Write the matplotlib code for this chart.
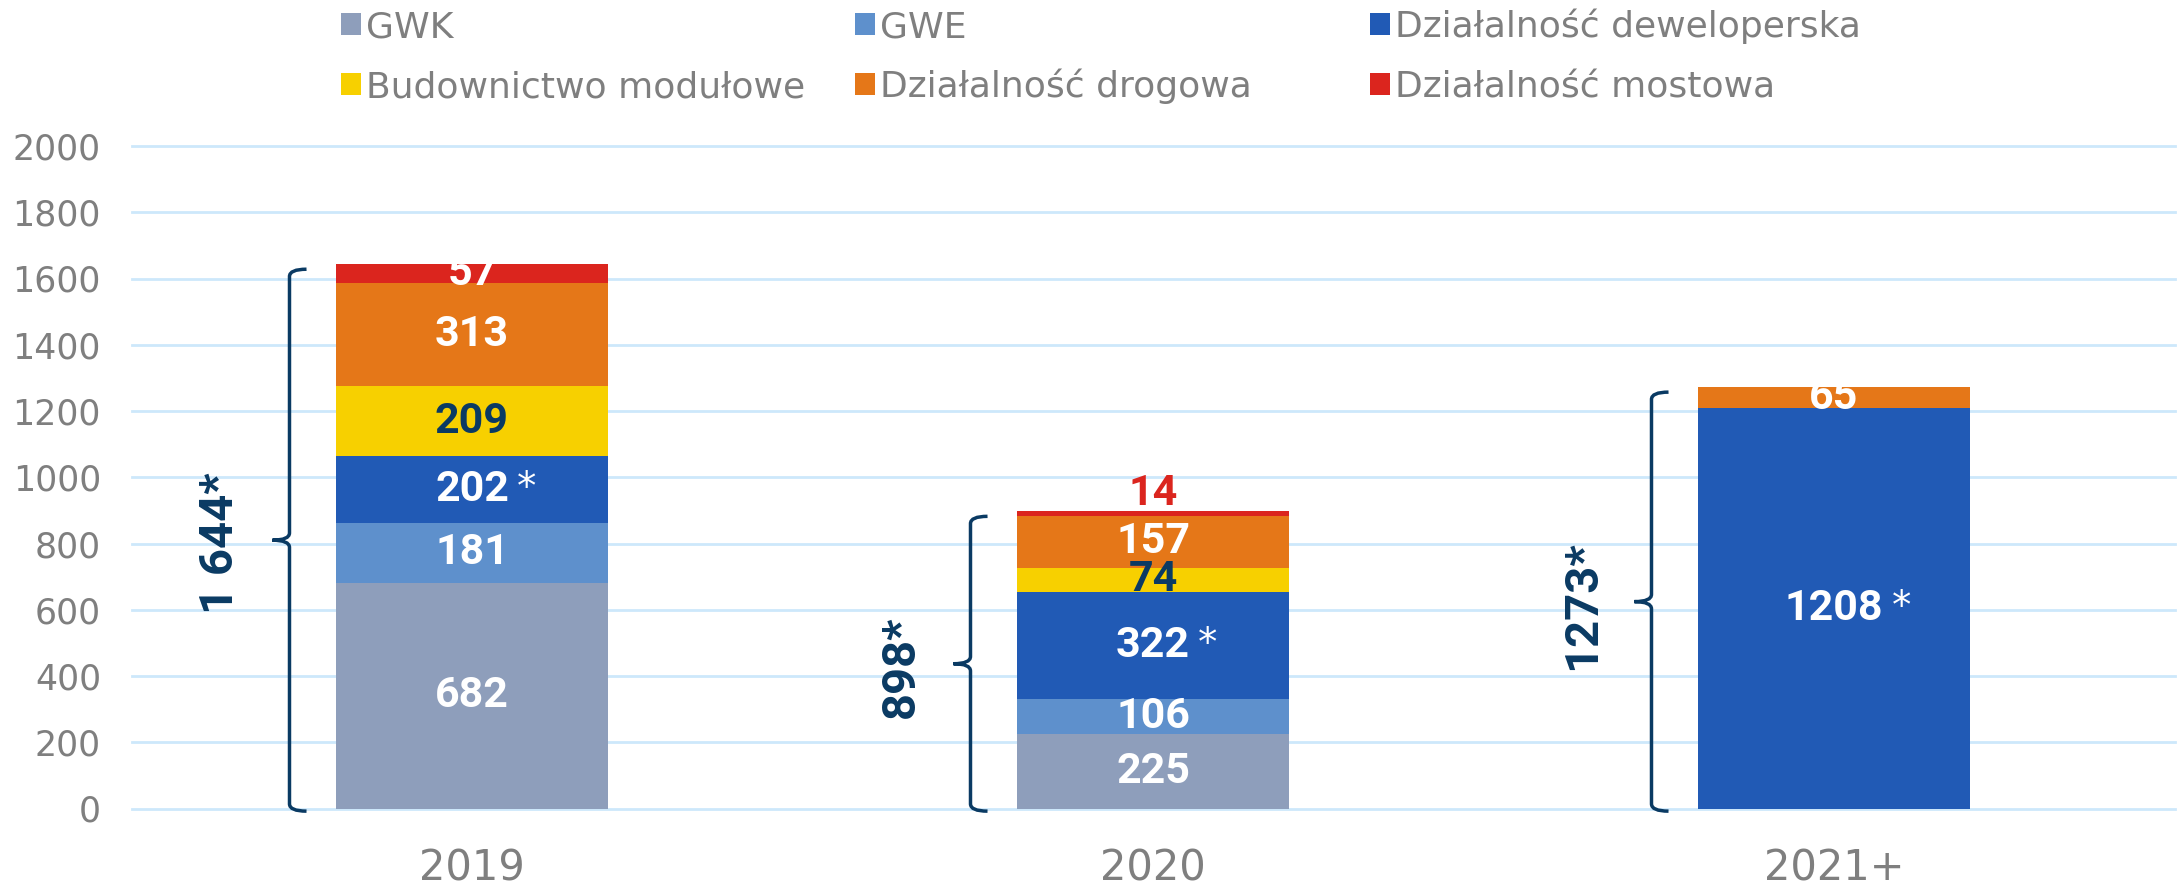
import matplotlib
matplotlib.use('Agg')
import matplotlib.pyplot as plt
from matplotlib.path import Path
from matplotlib.patches import PathPatch, Rectangle

# ---------------- data ----------------
categories = ['2019', '2020', '2021+']
series_names = ['GWK', 'GWE', 'Działalność deweloperska',
                'Budownictwo modułowe', 'Działalność drogowa', 'Działalność mostowa']
gwk = [682, 225, 0]
gwe = [181, 106, 0]
deweloperska = [202, 322, 1208]
budownictwo = [209, 74, 0]
drogowa = [313, 157, 65]
mostowa = [57, 14, 0]
total_labels = ['1 644*', '898*', '1273*']
y_ticks = [0, 200, 400, 600, 800, 1000, 1200, 1400, 1600, 1800, 2000]

series_values = [gwk, gwe, deweloperska, budownictwo, drogowa, mostowa]
starred = [False, False, True, False, False, False]

# ---------------- style ----------------
colors = ['#8E9EBB', '#5E90CC', '#215AB5', '#F7D000', '#E57718', '#DB251E']
NAVY = '#0A3A63'
label_colors = ['white', 'white', 'white', NAVY, 'white', 'white']
GRAY = '#7F7F7F'
GRID = '#CDE8FB'

W, H = 2178, 893
fig = plt.figure(figsize=(W / 100, H / 100), dpi=100)
ax = fig.add_axes([131.5 / W, 84.5 / H, 2043 / W, 662.5 / H])

x = list(range(len(categories)))
bar_w = 0.4
bottoms = [0] * len(categories)
for i, vals in enumerate(series_values):
    ax.bar(x, vals, width=bar_w, bottom=bottoms, color=colors[i],
           linewidth=0, zorder=2)
    for j, v in enumerate(vals):
        if v <= 0:
            continue
        if v >= 40:
            t = ax.text(j, bottoms[j] + v / 2, str(v), ha='center', va='center',
                        fontsize=31, fontweight='bold', family='Roboto',
                        color=label_colors[i], zorder=4)
            if starred[i]:
                ax.annotate('*', xy=(1, 1), xycoords=t, xytext=(6, 0),
                            textcoords='offset points', ha='left', va='top',
                            fontsize=28, color=label_colors[i],
                            family='DejaVu Sans', zorder=4)
        else:
            ax.annotate(str(v), xy=(j, bottoms[j] + v), xytext=(0, 4),
                        textcoords='offset points', ha='center', va='baseline',
                        fontsize=31, fontweight='bold', family='Roboto',
                        color=colors[i], zorder=4)
    bottoms = [b + v for b, v in zip(bottoms, vals)]

totals = bottoms

# braces with totals
def brace(ax, x0, y0, y1, dx, r):
    ym = (y0 + y1) / 2
    verts = [(x0 + dx, y1), (x0, y1), (x0, y1 - r),
             (x0, ym + r),
             (x0, ym), (x0 - dx, ym),
             (x0, ym), (x0, ym - r),
             (x0, y0 + r),
             (x0, y0), (x0 + dx, y0)]
    codes = [Path.MOVETO, Path.CURVE3, Path.CURVE3,
             Path.LINETO,
             Path.CURVE3, Path.CURVE3,
             Path.CURVE3, Path.CURVE3,
             Path.LINETO,
             Path.CURVE3, Path.CURVE3]
    ax.add_patch(PathPatch(Path(verts, codes), facecolor='none',
                           edgecolor=NAVY, lw=2.5, clip_on=False, zorder=3))
    return ym

for j, tot in enumerate(totals):
    ym = brace(ax, j - 0.268, -8, tot - 16, 0.025, 22)
    ax.text(j - 0.37, ym - 10, total_labels[j], rotation=90, ha='center',
            va='center', fontsize=34, fontweight='bold', family='Roboto',
            color=NAVY, zorder=4)

# axes styling
ax.set_xlim(-0.5, 2.5)
ax.set_ylim(0, 2000)
ax.set_yticks(y_ticks)
ax.set_xticks(x)
ax.set_xticklabels(categories)
ax.yaxis.grid(True, color=GRID, lw=2, zorder=0)
for gl in ax.get_ygridlines():
    gl.set_clip_on(False)
ax.set_axisbelow(True)
for s in ax.spines.values():
    s.set_visible(False)
ax.tick_params(axis='y', length=0, pad=22, labelsize=25, labelcolor=GRAY)
ax.tick_params(axis='x', length=0, pad=28, labelsize=30, labelcolor=GRAY)
for lab in ax.get_yticklabels() + ax.get_xticklabels():
    lab.set_family('DejaVu Sans')

# manual legend (3 columns x 2 rows)
col_x = [341, 855, 1370]
row_y = [24, 84]
msize = 20
for k, name in enumerate(series_names):
    r, c = divmod(k, 3)
    mx, my = col_x[c], row_y[r]
    fig.add_artist(Rectangle((mx / W, 1 - (my + 11) / H), msize / W,
                             22 / H, transform=fig.transFigure,
                             facecolor=colors[k], edgecolor='none'))
    fig.text((mx + msize + 5) / W, 1 - (my + 13) / H, name, ha='left',
             va='baseline', fontsize=26, color=GRAY, family='DejaVu Sans')

fig.savefig('out.png', dpi=100)
